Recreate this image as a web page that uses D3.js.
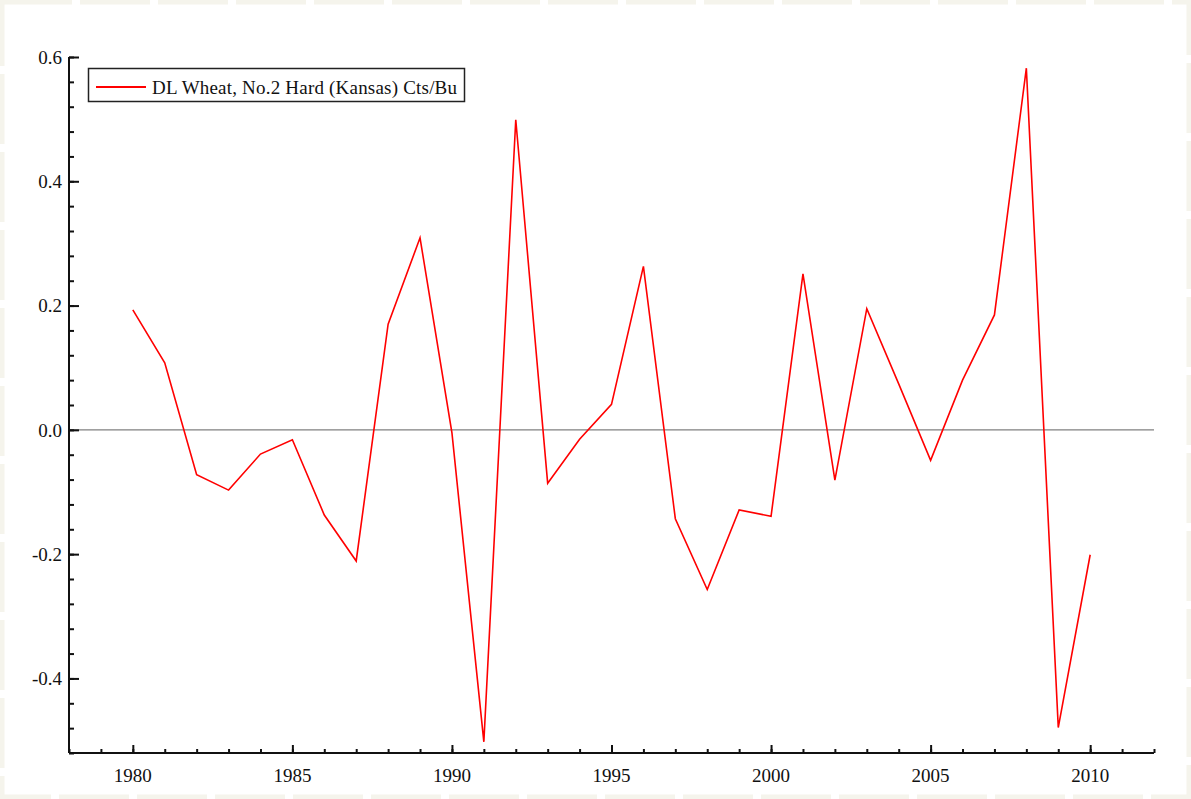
<!DOCTYPE html>
<html>
<head>
<meta charset="utf-8">
<script src="https://cdn.jsdelivr.net/npm/d3@7"></script>
<style>
  body { margin: 0; background: #ffffff; }
  svg { display: block; }
</style>
</head>
<body>
<script>
//data
var years = [1980, 1981, 1982, 1983, 1984, 1985, 1986, 1987, 1988, 1989,
             1990, 1991, 1992, 1993, 1994, 1995, 1996, 1997, 1998, 1999,
             2000, 2001, 2002, 2003, 2004, 2005, 2006, 2007, 2008, 2009, 2010];
var wheat = [0.193, 0.108, -0.072, -0.097, -0.039, -0.016, -0.137, -0.211, 0.170, 0.309,
             -0.005, -0.502, 0.499, -0.086, -0.015, 0.041, 0.263, -0.143, -0.257, -0.129,
             -0.139, 0.251, -0.081, 0.195, 0.074, -0.049, 0.080, 0.185, 0.582, -0.479, -0.201];
var seriesName = "DL Wheat, No.2 Hard (Kansas) Cts/Bu";
var xMajorTicks = [1980, 1985, 1990, 1995, 2000, 2005, 2010];
var yMajorTicks = [-0.4, -0.2, 0.0, 0.2, 0.4, 0.6];

//size variables
var width = 1191;
var height = 799;
var font = "'Liberation Serif', 'DejaVu Serif', serif";
var fontSize = 19;

var svg = d3.select("body").append("svg")
    .attr("width", width)
    .attr("height", height);

//cream border round the picture
svg.append("rect")
    .attr("x", 2).attr("y", 2)
    .attr("width", width - 4).attr("height", height - 4)
    .attr("fill", "none")
    .attr("stroke", "#f5f4ec")
    .attr("stroke-width", 5)
    .attr("stroke-dasharray", "70,8");

//scales
var x = d3.scaleLinear().domain([1978, 2012]).range([69, 1154]);
var y = d3.scaleLinear().domain([-0.52, 0.6]).range([753, 57]);

//zero line
svg.append("line")
    .attr("x1", x(1978)).attr("x2", x(2012))
    .attr("y1", y(0)).attr("y2", y(0))
    .attr("stroke", "#808080")
    .attr("stroke-width", 1.2);

//x axis, ticks pointing inward
var xAxis = svg.append("g").attr("transform", "translate(0," + y(-0.52) + ")");
xAxis.call(d3.axisTop(x).tickValues(d3.range(1978, 2013, 1)).tickSize(4).tickFormat(""));
xAxis.append("g").call(d3.axisTop(x).tickValues(xMajorTicks).tickSize(8).tickFormat(""));
xAxis.selectAll(".domain").attr("d", "M" + x(1978) + ",0H" + x(2012));
xAxis.selectAll("text.lbl")
    .data(xMajorTicks)
    .enter()
    .append("text")
    .attr("class", "lbl")
    .attr("x", function (d) { return x(d) })
    .attr("y", 29)
    .attr("text-anchor", "middle")
    .attr("font-family", font)
    .attr("font-size", fontSize)
    .attr("fill", "#111")
    .text(function (d) { return d });

//y axis
var yAxis = svg.append("g").attr("transform", "translate(" + x(1978) + ",0)");
var yMinor = d3.range(0, 29).map(function (i) { return +(0.6 - i * 0.04).toFixed(2) });
yAxis.call(d3.axisRight(y).tickValues(yMinor).tickSize(5).tickFormat(""));
yAxis.append("g").call(d3.axisRight(y).tickValues(yMajorTicks).tickSize(10).tickFormat(""));
yAxis.selectAll(".domain").attr("d", "M0," + y(0.6) + "V" + y(-0.52));
yAxis.selectAll("text.lbl")
    .data(yMajorTicks)
    .enter()
    .append("text")
    .attr("class", "lbl")
    .attr("x", -7)
    .attr("y", function (d) { return y(d) })
    .attr("dy", "0.35em")
    .attr("text-anchor", "end")
    .attr("font-family", font)
    .attr("font-size", fontSize)
    .attr("fill", "#111")
    .text(function (d) { return d3.format(".1f")(d).replace("\u2212", "-") });

svg.selectAll(".domain").attr("stroke", "#111").attr("stroke-width", 2);
svg.selectAll(".tick line").attr("stroke", "#111").attr("stroke-width", 2);

//the series
var line = d3.line()
    .x(function (d, i) { return x(years[i]) })
    .y(function (d) { return y(d) });

svg.append("path")
    .datum(wheat)
    .attr("d", line)
    .attr("fill", "none")
    .attr("stroke", "#ff0000")
    .attr("stroke-width", 1.6)
    .attr("stroke-linejoin", "miter");

//legend
var legend = svg.append("g");
legend.append("rect")
    .attr("x", 88.5).attr("y", 68.5)
    .attr("width", 376).attr("height", 33)
    .attr("fill", "#fff")
    .attr("stroke", "#222")
    .attr("stroke-width", 1.5);
legend.append("line")
    .attr("x1", 96).attr("x2", 146)
    .attr("y1", 87).attr("y2", 87)
    .attr("stroke", "#ff0000")
    .attr("stroke-width", 2);
legend.append("text")
    .attr("x", 152).attr("y", 87)
    .attr("dy", "0.35em")
    .attr("font-family", font)
    .attr("font-size", fontSize)
    .attr("fill", "#111")
    .attr("textLength", 305)
    .attr("lengthAdjust", "spacing")
    .text(seriesName);
</script>
</body>
</html>
